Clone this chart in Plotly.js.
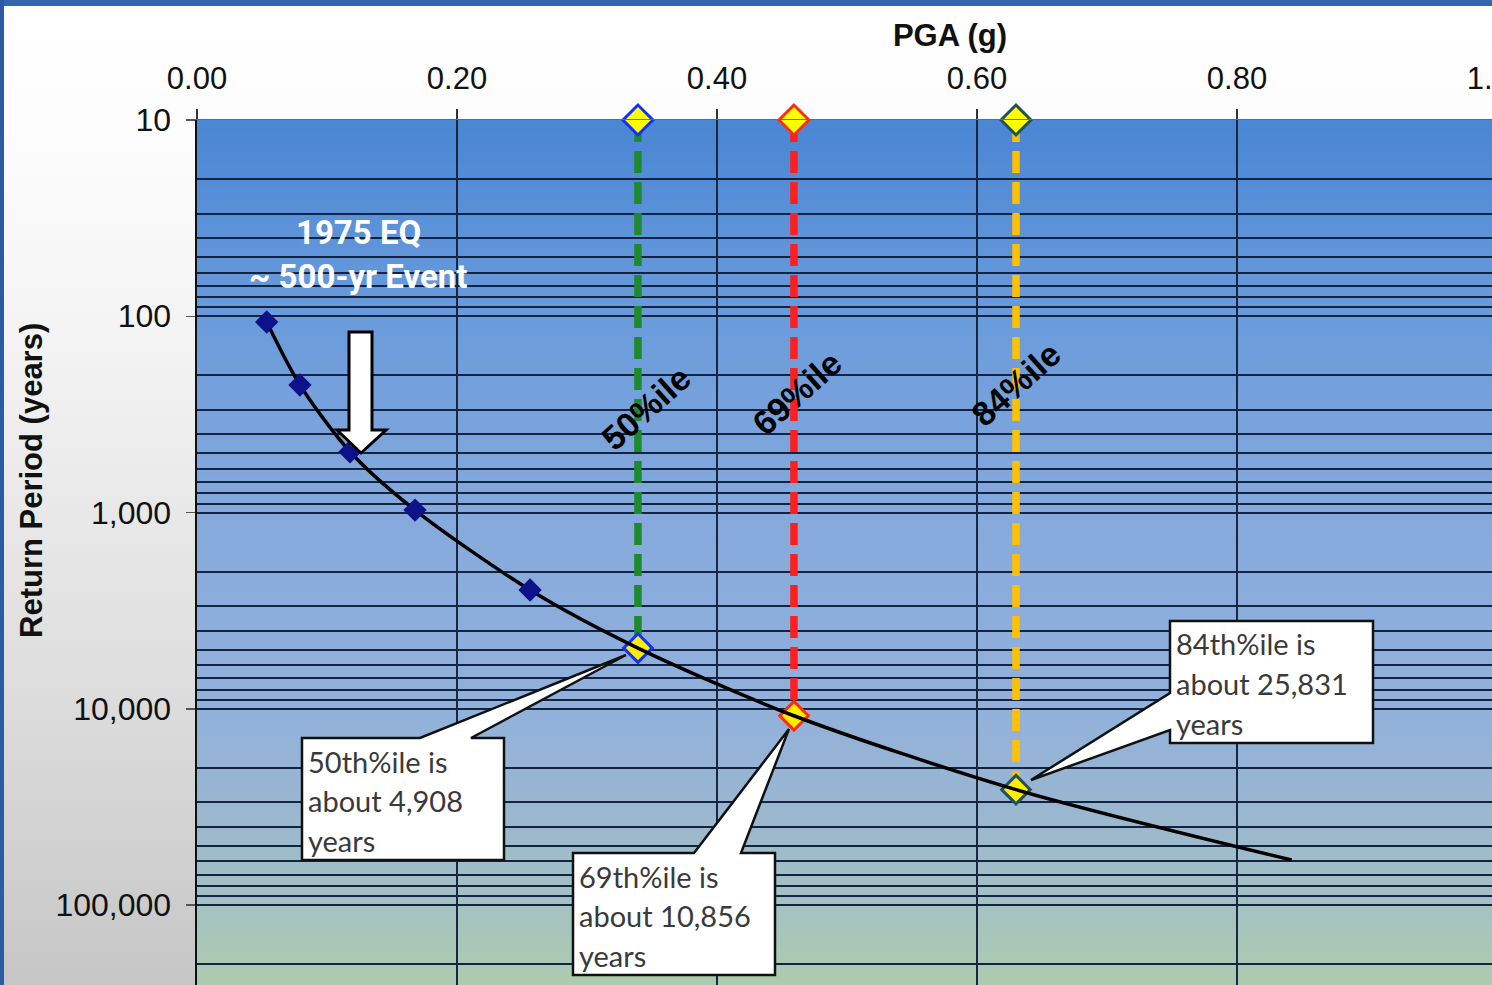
<!DOCTYPE html>
<html><head><meta charset="utf-8">
<script src="https://cdn.plot.ly/plotly-3.0.1.min.js"></script>
<style>
html,body{margin:0;padding:0;overflow:hidden;background:#fff}
#frame{position:relative;width:1492px;height:985px;overflow:hidden}
#chart{position:absolute;left:0;top:0;width:1703px;height:985px}
</style></head><body>
<div id="frame"><div id="chart"></div></div>
<script>
// ---------------- data ----------------
const hazardPGA = [0.0536, 0.0792, 0.1177, 0.1677, 0.2562];
const hazardRP  = [107, 224, 490, 972, 2483];
const curvePGA  = [0.0536, 0.0792, 0.1177, 0.1677, 0.2562, 0.3392, 0.4592, 0.6300, 0.8420];
const curveRP   = [107, 224, 490, 972, 2483, 4908, 10856, 25831, 59000];
const pctNames  = ['50%ile', '69%ile', '84%ile'];
const pctPGA    = [0.3392, 0.4592, 0.6300];
const pctRP     = [4908, 10856, 25831];
const pctTopRP  = [10, 10, 10];
const pctLabelRP = [293, 246, 221];
const pctLineColors   = ['#1e8a2e', '#ff1f1f', '#ffc000'];
const pctBorderColors = ['#1030ff', '#ff2a10', '#22505a'];
const calloutLines = [
  ['50th%ile is', 'about 4,908', 'years'],
  ['69th%ile is', 'about 10,856', 'years'],
  ['84th%ile is', 'about 25,831', 'years']
];
const eventLines = ['1975 EQ', '~ 500-yr Event'];
const xTickVals = [0, 0.2, 0.4, 0.6, 0.8, 1.0];
const xTickText = ['0.00', '0.20', '0.40', '0.60', '0.80', '1.00'];
const yTickVals = [10, 100, 1000, 10000, 100000];
const yTickText = ['10', '100', '1,000', '10,000', '100,000'];

// ---------------- geometry ----------------
const W = 1703, H = 985, L = 197, T = 120;
const PW = W - L, PH = H - T;
const PX_PER_G = 1300, PX_PER_DECADE = 196.25;
const X = px => (px - L) / PW;
const Y = py => (H - py) / PH;
const path = pts => 'M' + pts.map(p => X(p[0]).toFixed(5) + ',' + Y(p[1]).toFixed(5)).join('L') + 'Z';

// minor grid values (2..9 of each decade)
const minorVals = [];
for (let d = 10; d <= 100000; d *= 10) for (let k = 2; k <= 9; k++) minorVals.push(k * d);

// background gradients
function bg() {
  const c = document.createElement('canvas'); c.width = W; c.height = H;
  const g = c.getContext('2d');
  let gr = g.createLinearGradient(0, 0, 0, H);
  gr.addColorStop(0, '#ffffff'); gr.addColorStop(0.12, '#fdfdfd'); gr.addColorStop(0.35, '#f3f3f3');
  gr.addColorStop(0.7, '#dddddd'); gr.addColorStop(1, '#c6c6c6');
  g.fillStyle = gr; g.fillRect(0, 0, W, H);
  gr = g.createLinearGradient(0, T, 0, H);
  gr.addColorStop(0, '#4a86d4'); gr.addColorStop(0.2, '#6699db'); gr.addColorStop(0.45, '#85a9dd');
  gr.addColorStop(0.65, '#90b0dc'); gr.addColorStop(0.78, '#98b5d2'); gr.addColorStop(0.9, '#a3c1c3');
  gr.addColorStop(1, '#aecbaf');
  g.fillStyle = gr; g.fillRect(L, T, PW, PH);
  return c.toDataURL();
}

// ---------------- traces ----------------
const traces = [];
pctPGA.forEach((x, i) => {
  traces.push({x: [x, x], y: [pctTopRP[i], pctRP[i]], mode: 'lines', hoverinfo: 'skip',
    line: {color: pctLineColors[i], width: 7.5, dash: '22px,9px'}});
});
traces.push({x: pctPGA, y: pctTopRP, mode: 'markers', cliponaxis: false,
  marker: {symbol: 'diamond', size: 23, color: '#ffff00', line: {color: pctBorderColors, width: 3}}});
traces.push({x: pctPGA, y: pctRP, mode: 'markers', cliponaxis: false,
  marker: {symbol: 'diamond', size: 22, color: '#ffee00', line: {color: pctBorderColors, width: 3}}});
traces.push({x: curvePGA, y: curveRP, mode: 'lines',
  line: {color: '#000000', width: 3.5, shape: 'spline', smoothing: 0.8}});
traces.push({x: hazardPGA, y: hazardRP, mode: 'markers',
  marker: {symbol: 'diamond', size: 18, color: '#0d128a'}});

// ---------------- annotations ----------------
const annotations = [];
annotations.push({xref: 'paper', yref: 'paper', x: X(32), y: Y(481), text: '<b>Return Period (years)</b>',
  textangle: -90, showarrow: false, font: {size: 31, color: '#111'}, xanchor: 'center', yanchor: 'middle'});
const evY = [232, 276];
eventLines.forEach((t, i) => annotations.push({xref: 'paper', yref: 'paper', x: X(358), y: Y(evY[i]),
  text: '<b>' + t + '</b>', showarrow: false, xanchor: 'center', yanchor: 'middle',
  font: {family: 'Roboto, Liberation Sans, sans-serif', size: 33, color: '#ffffff'}}));
const pctShift = [8, 3, 0];
pctNames.forEach((t, i) => annotations.push({xref: 'x', yref: 'y', x: pctPGA[i], y: Math.log10(pctLabelRP[i]),
  xshift: pctShift[i], text: '<b>' + t + '</b>', textangle: -42, showarrow: false,
  font: {family: 'Liberation Sans, Arial, sans-serif', size: 34, color: '#000'}}));
const boxes = [[302, 738, 504, 860], [573, 853, 775, 975], [1170, 621, 1373, 743]];
boxes.forEach((b, i) => {
  calloutLines[i].forEach((t, j) => annotations.push({xref: 'paper', yref: 'paper',
    x: X(b[0] + 4), y: Y(b[1] + 23 + j * 39.5), text: t, showarrow: false, xanchor: 'left', yanchor: 'middle',
    font: {family: 'Lato, Open Sans, sans-serif', size: 29, color: '#3a3a3a'}}));
});

// ---------------- shapes ----------------
const shapes = [
  {type: 'path', xref: 'paper', yref: 'paper', layer: 'above', fillcolor: '#ffffff', line: {color: '#000', width: 3},
   path: path([[349, 332], [372, 332], [372, 430], [386, 430], [361, 453], [337, 430], [349, 430]])},
  {type: 'path', xref: 'paper', yref: 'paper', layer: 'above', fillcolor: '#ffffff', line: {color: '#111', width: 2.5},
   path: path([[302, 738], [420, 738], [626, 655], [471, 738], [504, 738], [504, 860], [302, 860]])},
  {type: 'path', xref: 'paper', yref: 'paper', layer: 'above', fillcolor: '#ffffff', line: {color: '#111', width: 2.5},
   path: path([[573, 853], [694, 853], [789, 729], [741, 853], [775, 853], [775, 975], [573, 975]])},
  {type: 'path', xref: 'paper', yref: 'paper', layer: 'above', fillcolor: '#ffffff', line: {color: '#111', width: 2.5},
   path: path([[1170, 621], [1373, 621], [1373, 743], [1170, 743], [1170, 730], [1031, 780], [1170, 693]])},
  {type: 'rect', xref: 'paper', yref: 'paper', layer: 'above', x0: X(0), x1: X(W), y0: Y(6), y1: Y(0),
   fillcolor: '#3467b0', line: {width: 0}},
  {type: 'rect', xref: 'paper', yref: 'paper', layer: 'above', x0: X(0), x1: X(4), y0: Y(H), y1: Y(0),
   fillcolor: '#2d5aa5', line: {width: 0}}
];

const layout = {
  width: W, height: H, autosize: false, showlegend: false,
  margin: {l: L, r: 0, t: T, b: 0, pad: 0},
  paper_bgcolor: 'rgba(0,0,0,0)', plot_bgcolor: 'rgba(0,0,0,0)',
  font: {family: 'Liberation Sans, Arial, sans-serif', color: '#111'},
  images: [{source: bg(), xref: 'paper', yref: 'paper', x: X(0), y: Y(0), sizex: W / PW, sizey: H / PH,
    xanchor: 'left', yanchor: 'top', sizing: 'stretch', layer: 'below'}],
  xaxis: {side: 'top', range: [0, PW / PX_PER_G], tickmode: 'array', tickvals: xTickVals, ticktext: xTickText,
    ticks: 'outside', ticklen: 10, tickwidth: 1.5, tickcolor: '#333', tickfont: {size: 31, color: '#111'},
    ticklabelstandoff: 7,
    showgrid: true, gridcolor: '#1a2740', gridwidth: 1.5, showline: true, linecolor: '#6b6b6b', linewidth: 1.5,
    zeroline: false, title: {text: '<b>PGA (g)</b>', font: {size: 31, color: '#111'}, standoff: 5}},
  yaxis: {type: 'log', range: [1 + PH / PX_PER_DECADE, 1], tickmode: 'array', tickvals: yTickVals, ticktext: yTickText,
    ticks: 'outside', ticklen: 9, tickwidth: 1.5, tickcolor: '#555', tickfont: {size: 32, color: '#111'},
    ticklabelstandoff: 8,
    showgrid: true, gridcolor: '#14233f', gridwidth: 2, showline: true, linecolor: '#111', linewidth: 2.5,
    zeroline: false,
    minor: {tickmode: 'array', tickvals: minorVals, showgrid: true, gridcolor: '#14233f', gridwidth: 2, ticks: ''}},
  annotations: annotations,
  shapes: shapes
};

Plotly.newPlot('chart', traces, layout, {staticPlot: true, displayModeBar: false});
</script></body></html>
